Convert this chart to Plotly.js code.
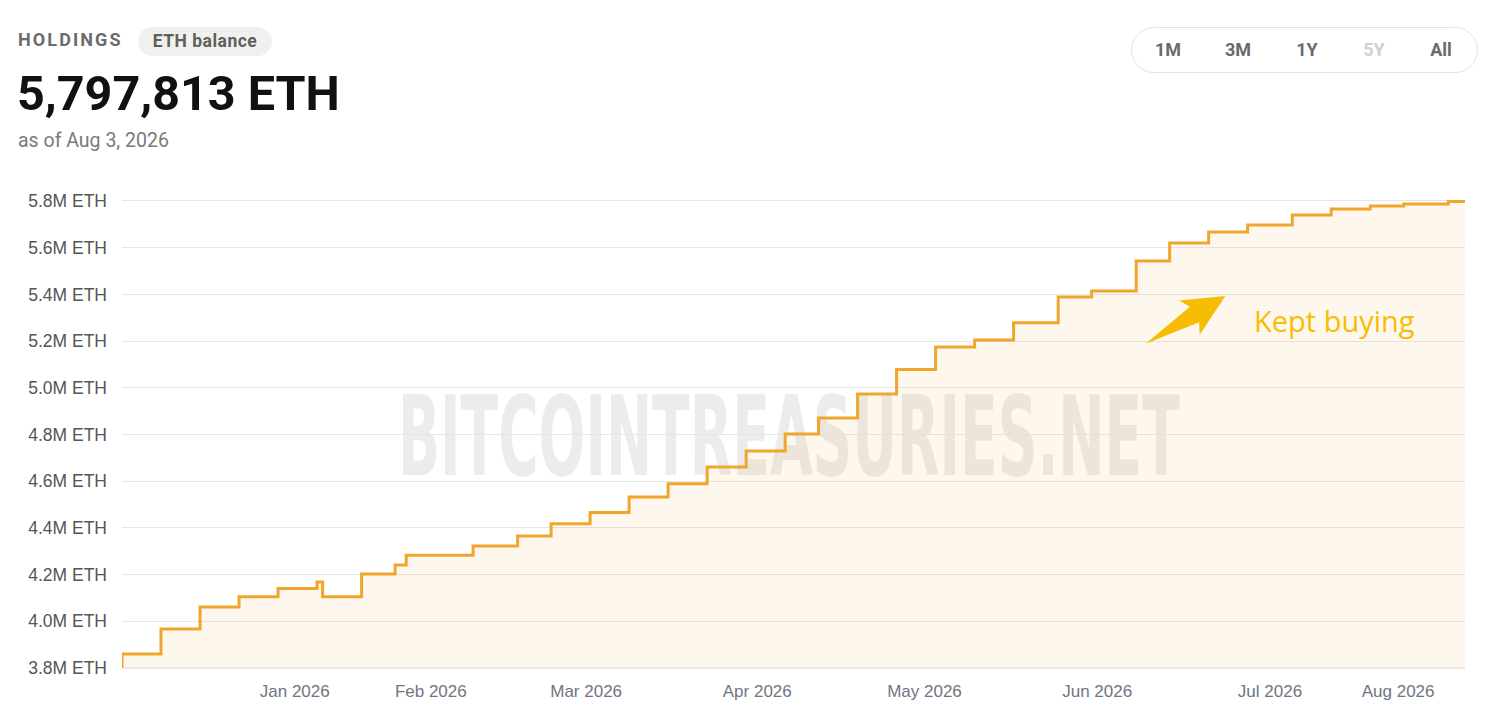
<!DOCTYPE html>
<html>
<head>
<meta charset="utf-8">
<script src="https://cdn.plot.ly/plotly-3.0.1.min.js"></script>
<style>
html,body{margin:0;padding:0;background:#fff;width:1500px;height:712px;overflow:hidden;}
#wrap{position:relative;width:1500px;height:712px;font-family:Roboto,"Liberation Sans",sans-serif;}
#wm{position:absolute;left:0;top:0;width:1500px;height:712px;}
#chart{position:absolute;left:0;top:0;width:1500px;height:712px;}
.abs{position:absolute;white-space:nowrap;line-height:1;}
#lbl{left:18px;top:31px;font-size:18px;font-weight:700;letter-spacing:2.1px;color:#6b6b6b;}
#pill{left:138px;top:27px;width:134px;height:29px;border-radius:15px;background:#f0f0ee;color:#5f5f5f;font-size:17.5px;font-weight:700;letter-spacing:0.5px;display:flex;align-items:center;justify-content:center;}
#big{left:17px;top:70px;font-size:48.5px;font-weight:700;color:#111;}
#asof{left:18px;top:131px;font-size:19.5px;color:#7a7a7a;}
#btns{left:1131px;top:27px;width:345px;height:44px;border:1.5px solid #e2e2e2;border-radius:23px;}
.btn{position:absolute;top:50px;transform:translate(-50%,-50%);font-size:18px;font-weight:700;color:#6a6a6a;line-height:1;}
</style>
</head>
<body>
<div id="wrap">
  <svg id="wm" width="1500" height="712">
    <text id="wmtext" x="0" y="0"
      style="font-family:'DejaVu Sans Condensed','DejaVu Sans',sans-serif;font-weight:bold;font-size:110px;fill:#ececec;">BITCOINTREASURIES.NET</text>
  </svg>
  <div id="chart"></div>
  <div id="lbl" class="abs">HOLDINGS</div>
  <div id="pill" class="abs">ETH balance</div>
  <div id="big" class="abs">5,797,813 ETH</div>
  <div id="asof" class="abs">as of Aug 3, 2026</div>
  <div id="btns" class="abs"></div>
  <div class="btn" style="left:1168px;">1M</div>
  <div class="btn" style="left:1238px;">3M</div>
  <div class="btn" style="left:1307px;">1Y</div>
  <div class="btn" style="left:1374px;color:#d0d0d0;">5Y</div>
  <div class="btn" style="left:1441px;">All</div>
</div>
<script>
// Holdings (ETH, millions) at each purchase date (step chart)
const purchaseDates = [
  '2025-12-05','2025-12-05','2025-12-12','2025-12-19','2025-12-26',
  '2026-01-02','2026-01-09','2026-01-10','2026-01-17','2026-01-23','2026-01-25',
  '2026-02-06','2026-02-14','2026-02-20','2026-02-27',
  '2026-03-06','2026-03-13','2026-03-20','2026-03-27',
  '2026-04-03','2026-04-09','2026-04-16','2026-04-23','2026-04-30',
  '2026-05-07','2026-05-14','2026-05-22','2026-05-28',
  '2026-06-05','2026-06-11','2026-06-18','2026-06-25',
  '2026-07-03','2026-07-10','2026-07-17','2026-07-23','2026-07-31',
  '2026-08-03'
];
const holdingsM = [
  3.800,3.860,3.967,4.061,4.105,
  4.140,4.168,4.105,4.203,4.241,4.283,
  4.322,4.365,4.418,4.466,
  4.532,4.589,4.661,4.729,
  4.802,4.871,4.973,5.078,5.175,
  5.205,5.278,5.389,5.415,
  5.543,5.620,5.667,5.697,
  5.740,5.766,5.779,5.787,5.797813,
  5.797813
];
const xRange = ['2025-12-05','2026-08-03'];
const yRange = [3.7957, 5.847];
const monthTickDates = ['2026-01-05','2026-01-29 10:00','2026-02-26 07:00','2026-03-29','2026-04-28','2026-05-29','2026-06-29','2026-07-22'];
const monthTickLabels = ['Jan 2026','Feb 2026','Mar 2026','Apr 2026','May 2026','Jun 2026','Jul 2026','Aug 2026'];
const yTickVals = [3.8,4.0,4.2,4.4,4.6,4.8,5.0,5.2,5.4,5.6,5.8];
const yTickLabels = ['3.8M ETH','4.0M ETH','4.2M ETH','4.4M ETH','4.6M ETH','4.8M ETH','5.0M ETH','5.2M ETH','5.4M ETH','5.6M ETH','5.8M ETH'];
const noteText = 'Kept buying';
const noteX = '2026-07-10 12:00', noteY = 5.29;
const arrowTipX = '2026-06-21', arrowTipY = 5.393;

// watermark: fit into its box by horizontal scaling
(function(){
  const t = document.getElementById('wmtext');
  const w = t.getComputedTextLength() || 1400;
  const sx = 782 / w;
  t.setAttribute('transform', 'translate(398,475) scale(' + sx.toFixed(4) + ',1)');
})();

const trace = {
  x: purchaseDates, y: holdingsM, type: 'scatter', mode: 'lines',
  line: {shape: 'hv', color: '#f0a62c', width: 3},
  fill: 'tozeroy', fillcolor: 'rgba(246,170,50,0.09)',
  hoverinfo: 'skip'
};

const layout = {
  width: 1500, height: 712,
  margin: {l: 122, r: 35, t: 190, b: 43},
  paper_bgcolor: 'rgba(0,0,0,0)', plot_bgcolor: 'rgba(0,0,0,0)',
  showlegend: false,
  xaxis: {
    type: 'date', range: xRange, tickmode: 'array',
    tickvals: monthTickDates, ticktext: monthTickLabels,
    showgrid: false, zeroline: false, showline: false, ticks: '',
    tickfont: {family: '"Liberation Sans", Arial, sans-serif', size: 17, color: '#6f7582'},
    ticklabelstandoff: 10, fixedrange: true
  },
  yaxis: {
    range: yRange, tickmode: 'array',
    tickvals: yTickVals, ticktext: yTickLabels,
    showgrid: true, gridcolor: '#e6e6e6', gridwidth: 1,
    zeroline: false, showline: false, ticks: '',
    tickfont: {family: '"Liberation Sans", Arial, sans-serif', size: 17.5, color: '#555555'},
    ticklabelstandoff: 14, fixedrange: true
  },
  shapes: [{
    type: 'line', xref: 'paper', yref: 'y', x0: 0, x1: 1,
    y0: yTickVals[0], y1: yTickVals[0],
    line: {color: '#dedede', width: 1}, layer: 'below'
  }, {
    type: 'path', xref: 'x', yref: 'y',
    xsizemode: 'pixel', ysizemode: 'pixel',
    xanchor: arrowTipX, yanchor: arrowTipY,
    path: 'M 0,0 L -25.7,-38.7 L -26.3,-26.2 L -79.7,-47.8 L -35.5,-10.8 L -46.3,-4.5 Z',
    fillcolor: '#f7bd05', line: {width: 0}
  }],
  annotations: [{
    x: noteX, y: noteY, xref: 'x', yref: 'y', text: noteText, showarrow: false,
    font: {family: '"Open Sans", Roboto, sans-serif', size: 29, color: '#f7bd05'},
    xanchor: 'center', yanchor: 'middle'
  }]
};

Plotly.newPlot('chart', [trace], layout, {displayModeBar: false, staticPlot: true});
</script>
</body>
</html>
